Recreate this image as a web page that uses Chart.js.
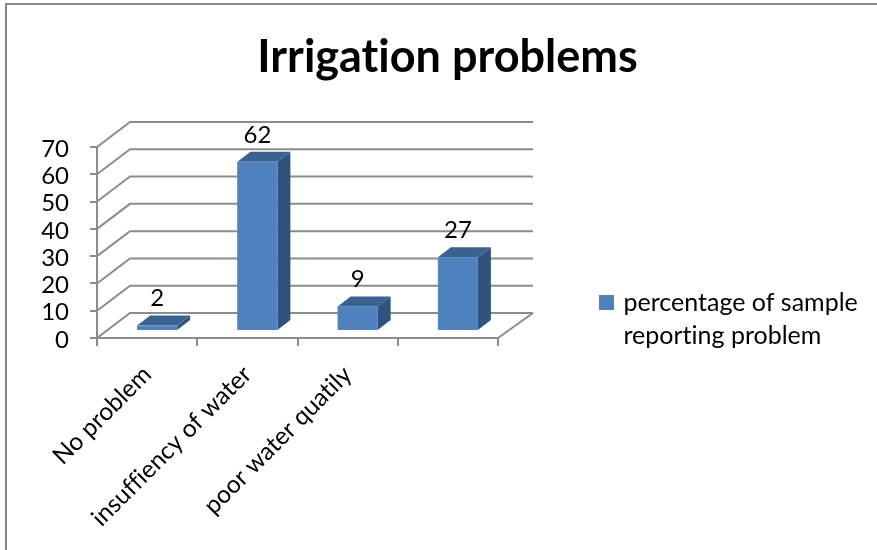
<!DOCTYPE html>
<html>
<head>
<meta charset="utf-8">
<title>Irrigation problems</title>
<script src="https://cdn.jsdelivr.net/npm/chart.js@4"></script>
<style>
  html, body { margin: 0; padding: 0; background: #fff; }
  #wrap { position: relative; width: 877px; height: 550px; overflow: hidden; }
  #frame { position: absolute; left: 5px; top: 3px; right: -5px; bottom: -5px; border: 2px solid #868686; }
  canvas { position: absolute; left: 0; top: 0; }
</style>
</head>
<body>
<div id="wrap">
  <div id="frame"></div>
  <canvas id="chart" width="877" height="550"></canvas>
</div>
<script>
const categories = ['No problem', 'insuffiency of water', 'poor water quatily', ''];
const percentages = [2, 62, 9, 27];
const seriesName = ['percentage of sample', 'reporting problem'];
const titleText = 'Irrigation problems';

const lineColor = '#8c8c8c';
const frontColor = '#4f81bd';
const frontEdge = '#5f8fc9';
const sideColor = '#31527c';
const topColor = '#3a6290';
const fontName = 'Lato, "Open Sans", sans-serif';

// fake 3d: back wall offset, and how far the bars sit in from the front edge
const wallX = 35;
const wallY = 25;
const barShiftX = 10;
const barShiftY = 7;
const barDepthX = 13;
const barDepthY = 10;

const fake3d = {
  id: 'fake3d',
  beforeLayout(chart) {
    // reserve the right side for the legend, title still centres over the whole canvas
    const legend = chart.legend;
    if (!legend.widthPatched) {
      const fit = legend.fit;
      legend.fit = function () {
        fit.call(this);
        this.width = 379;
      };
      legend.widthPatched = true;
    }
  },
  afterLayout(chart) {
    chart.legend.left = 592;
    chart.legend.bottom = 366;
  },
  beforeDraw(chart) {
    // no ti / ffi ligatures in the reference
    chart.ctx.textRendering = 'optimizeSpeed';
  },
  beforeDatasetsDraw(chart) {
    const { ctx, chartArea, scales } = chart;
    const { left, right, bottom } = chartArea;

    // wall lines, one per tick, running back from the y axis
    ctx.save();
    ctx.strokeStyle = lineColor;
    ctx.lineWidth = 2;
    scales.y.ticks.forEach((tick) => {
      const y = scales.y.getPixelForValue(tick.value);
      ctx.beginPath();
      ctx.moveTo(left, y);
      ctx.lineTo(left + wallX - 2, y - wallY);
      ctx.lineTo(right + wallX, y - wallY);
      ctx.stroke();
    });
    ctx.beginPath();
    ctx.moveTo(right, bottom);
    ctx.lineTo(right + wallX, bottom - wallY);
    ctx.stroke();

    // side and top faces of each bar
    ctx.translate(barShiftX, -barShiftY);
    chart.getDatasetMeta(0).data.forEach((bar) => {
      const x0 = bar.x - bar.width / 2;
      const x1 = bar.x + bar.width / 2;
      ctx.fillStyle = sideColor;
      ctx.beginPath();
      ctx.moveTo(x1, bar.y);
      ctx.lineTo(x1 + barDepthX, bar.y - barDepthY);
      ctx.lineTo(x1 + barDepthX, bar.base - barDepthY);
      ctx.lineTo(x1, bar.base);
      ctx.closePath();
      ctx.fill();
      ctx.fillStyle = topColor;
      ctx.beginPath();
      ctx.moveTo(x0, bar.y);
      ctx.lineTo(x0 + barDepthX, bar.y - barDepthY);
      ctx.lineTo(x1 + barDepthX, bar.y - barDepthY);
      ctx.lineTo(x1, bar.y);
      ctx.closePath();
      ctx.fill();
    });
    ctx.restore();

    // the front faces get drawn by chart.js inside this shift
    ctx.save();
    ctx.translate(barShiftX, -barShiftY);
  },
  afterDatasetsDraw(chart) {
    const { ctx } = chart;
    ctx.restore();

    ctx.save();
    ctx.fillStyle = '#000';
    ctx.font = '24px ' + fontName;
    ctx.textAlign = 'center';
    ctx.textBaseline = 'middle';
    chart.getDatasetMeta(0).data.forEach((bar, i) => {
      ctx.fillText(percentages[i], bar.x + barShiftX, bar.y - barShiftY - 27);
    });
    ctx.restore();
  },
};

new Chart(document.getElementById('chart'), {
  type: 'bar',
  data: {
    labels: categories,
    datasets: [
      {
        label: seriesName.join(' '),
        data: percentages,
        backgroundColor: frontColor,
        borderColor: frontEdge,
        borderWidth: 1,
        barThickness: 40,
        clip: false,
      },
    ],
  },
  options: {
    responsive: false,
    animation: false,
    layout: { padding: { left: 18, right: 0, top: 0, bottom: 0 } },
    plugins: {
      title: {
        display: true,
        text: titleText,
        color: '#000',
        font: { family: fontName, size: 45, weight: 'bold' },
        padding: { top: 30, bottom: 63 },
      },
      legend: {
        position: 'right',
        align: 'end',
        labels: {
          color: '#000',
          font: { family: fontName, size: 25, lineHeight: 1.32 },
          // thin box plus a thick stroke keeps the text close to the swatch
          boxWidth: 9,
          boxHeight: 9,
          padding: 10,
          generateLabels: () => [
            { text: seriesName, fillStyle: frontColor, strokeStyle: frontColor, lineWidth: 6, datasetIndex: 0 },
          ],
        },
      },
      tooltip: { enabled: false },
    },
    scales: {
      x: {
        offset: true,
        afterFit: (scale) => { scale.height = 212; },
        grid: { drawOnChartArea: false, tickLength: 8, color: lineColor, lineWidth: 2 },
        border: { color: lineColor, width: 2 },
        ticks: {
          autoSkip: false,
          minRotation: 45,
          maxRotation: 45,
          color: '#000',
          padding: 14,
          font: { family: fontName, size: 24.5 },
        },
      },
      y: {
        min: 0,
        max: 70,
        afterFit: (scale) => { scale.width = 79; },
        grid: { drawOnChartArea: false, tickLength: 7, color: lineColor, lineWidth: 2 },
        border: { color: lineColor, width: 2 },
        ticks: {
          stepSize: 10,
          autoSkip: false,
          color: '#000',
          padding: 21,
          labelOffset: 2,
          font: { family: fontName, size: 24 },
        },
      },
    },
  },
  plugins: [fake3d],
});
</script>
</body>
</html>
